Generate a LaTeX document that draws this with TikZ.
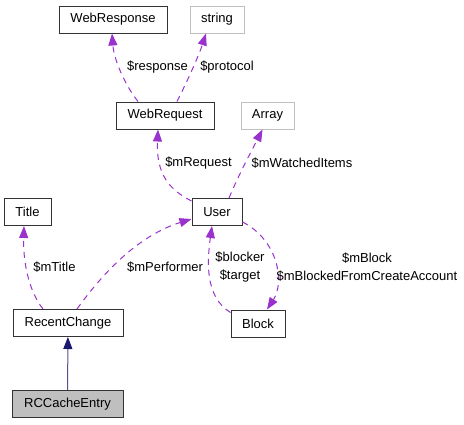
\documentclass[tikz,border=0pt]{standalone}
\usepackage{fontspec}
\setmainfont{Liberation Sans}
\usetikzlibrary{arrows.meta}
\definecolor{orchid}{HTML}{9A32CD}
\definecolor{navyline}{HTML}{191970}
\definecolor{boxgray}{HTML}{BFBFBF}
\begin{document}
\begin{tikzpicture}[x=1pt, y=-1pt, line width=1pt,
        every node/.style={font=\fontsize{13}{18}\selectfont},
        cls/.style={draw=black!80, fill=white, minimum height=27pt,
                    inner sep=0pt},
        ext/.style={cls, draw=boxgray},
        here/.style={cls, fill=boxgray},
        member/.style={draw=orchid, dash pattern=on 6pt off 5pt,
                       -{Triangle[length=12pt, width=9pt]}},
        derived/.style={draw=navyline!75, -{Triangle[length=12pt, width=9pt, color=navyline]}},
        lbl/.style={inner sep=0pt, align=center}]
        \useasboundingbox (0,0) rectangle (464,424);
        % classes
        \node[cls, minimum width=108pt] (webresp) at (113,19.5) {WebResponse};
        \node[ext, minimum width=54pt] (string) at (217,19.5) {string};
        \node[cls, minimum width=98pt] (webreq) at (165,115.5) {WebRequest};
        \node[ext, minimum width=53pt] (array) at (267.5,115.5) {Array};
        \node[cls, minimum width=50pt] (user) at (217,212) {User};
        \node[cls, minimum width=47pt] (title) at (27.5,212) {Title};
        \node[cls, minimum width=110pt] (rc) at (68,323) {RecentChange};
        \node[cls, minimum width=54pt] (block) at (258,323.5) {Block};
        \node[here, minimum width=111pt] (rcce) at (67.5,404) {RCCacheEntry};
        % members
        \draw[member] ([xshift=-27pt]webreq.north) .. controls (125,85) and (114,60) .. ([xshift=-1pt]webresp.south);
        \draw[member] ([xshift=12pt]webreq.north) .. controls (187,82) and (199,55) .. ([xshift=-11pt]string.south);
        \draw[member] ([yshift=-3pt]user.north west) .. controls (170,190) and (156,175) .. ([xshift=-7pt]webreq.south);
        \draw[member] ([xshift=12pt]user.north) .. controls (240,172) and (252,150) .. ([xshift=-5pt]array.south);
        \draw[member] ([xshift=-25pt]rc.north) .. controls (28,290) and (23,260) .. ([xshift=-3.5pt]title.south);
        \draw[member] ([xshift=9pt]rc.north) .. controls (105,270) and (140,235) .. ([yshift=-7pt]user.west);
        \draw[member] ([yshift=-3pt]block.north west) .. controls (205,297) and (207,262) .. ([xshift=-5pt]user.south);
        \draw[member] ([yshift=-10pt]user.east) .. controls (278,240) and (285,282) .. ([xshift=9pt]block.north);
        % inheritance
        \draw[derived] (rcce) -- (rc);
        % labels
        \node[lbl] (lresp) at (157.5,67) {\$response};
        \node[lbl] (lproto) at (227,67) {\$protocol};
        \node[lbl] (lreq) at (198.5,163) {\$mRequest};
        \node[lbl] (lwatch) at (302,163) {\$mWatchedItems};
        \node[lbl] (ltitle) at (54.5,267) {\$mTitle};
        \node[lbl] (lperf) at (165,267) {\$mPerformer};
        \node[lbl] (lblocker) at (240,267) {\$blocker\\\$target};
        \node[lbl] (lmblock) at (367,267) {\$mBlock\\\$mBlockedFromCreateAccount};
\end{tikzpicture}
\end{document}
